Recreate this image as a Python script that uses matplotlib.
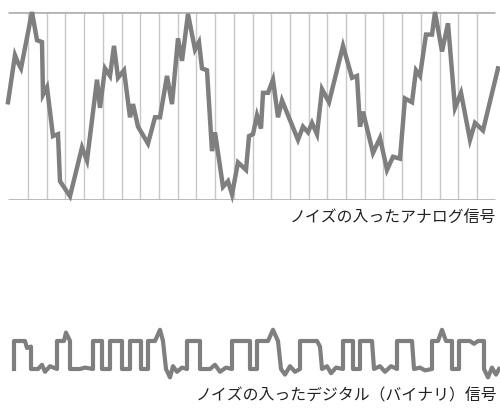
import matplotlib
matplotlib.use("Agg")
from matplotlib import pyplot as plt
import numpy as np

plt.rcParams['font.family'] = ['Noto Sans CJK JP', 'DejaVu Sans']

# analog signal: sample position and level (0 = bottom line, 100 = top line)
analog_t = [8, 15, 18, 21, 32, 37, 42, 43, 47, 53, 58, 60, 70, 82, 87, 97, 100,
            105, 110, 114, 118, 124, 130, 133, 138, 148, 155, 160, 167, 172, 178,
            182, 188, 195, 199, 202, 207, 212, 215, 223, 228, 232, 238, 246, 249,
            253, 257, 261, 263, 268, 273, 278, 282, 298, 303, 308, 312, 317, 322,
            329, 343, 352, 357, 360, 363, 373, 380, 387, 393, 400, 405, 412, 416,
            420, 426, 432, 435, 442, 448, 455, 461, 470, 475, 483, 498]
analog_v = [52, 77, 73, 70, 100, 85, 84, 56, 60, 34, 35, 10, 2, 28, 21, 64, 49,
            70, 66, 82, 65, 69, 44, 51, 39, 30, 44, 44, 66, 51, 86,
            74, 99, 80, 84, 70, 69, 26, 36, 7, 10, 3, 20, 16, 34,
            35, 45, 38, 57, 57, 64, 44, 53, 32, 39, 36, 41, 35, 59,
            52, 82, 65, 66, 39, 47, 25, 33, 16, 23, 22, 54, 52, 69,
            66, 88, 88, 100, 79, 94, 49, 57, 32, 41, 37, 70]

# digital signal: edges and levels (0 = low, 1 = high)
digital_t = [14, 14, 25, 27, 31, 31, 38, 42, 45, 50, 57, 57, 64, 66, 70, 70,
             80, 85, 93, 93, 102, 102, 110, 110, 122, 122, 130, 130, 141, 141,
             148, 148, 155, 160, 163, 166, 170, 173, 177, 182, 187, 187, 200, 200,
             210, 215, 220, 226, 232, 232, 250, 250, 257, 257, 268, 273, 278, 281,
             285, 290, 295, 300, 300, 317, 320, 322, 327, 331, 336, 343, 343, 353,
             353, 360, 360, 372, 374, 380, 385, 391, 397, 397, 412, 414, 420, 425,
             432, 432, 438, 442, 446, 452, 452, 459, 459, 470, 474, 478, 484, 484,
             488, 492, 496, 499]
digital_v = [0.0, 1.0, 1.0, 0.75, 0.8, 0.0, 0.0, 0.15, -0.1, 0.1, 0.0, 1.0,
             1.0, 1.3, 1.0, 0.0, 0.0, 0.05, 0.0, 1.0, 1.0, 0.0, 0.0, 1.0, 1.0,
             0.0, 0.0, 1.0, 1.0, 0.0, 0.0, 1.0, 1.0, 1.4, 1.0, 0.0, -0.3, 0.1,
             -0.1, 0.05, 0.0, 1.0, 1.0, 0.0, 0.0, 0.15, -0.1, 0.05, 0.0, 1.0,
             1.0, 0.0, 0.0, 1.0, 1.0, 1.4, 1.0, 0.0, -0.2, 0.1, -0.1, 0.0, 1.0,
             1.0, 0.8, 0.0, 0.1, -0.15, 0.05, 0.0, 1.0, 1.0, 0.0, 0.0, 1.0, 1.0,
             0.0, 0.1, -0.1, 0.1, 0.0, 1.0, 1.0, 0.0, 0.05, -0.05, 0.0, 1.0,
             1.0, 1.4, 1.0, 1.0, 0.0, 0.0, 1.0, 1.0, 0.9, 1.0, 1.0, 0.0, -0.3,
             0.05, -0.2, 0.0]

grid_x = np.linspace(28, 477, 25)

caption_analog = "ノイズの入ったアナログ信号"
caption_digital = "ノイズの入ったデジタル（バイナリ）信号"

W, H = 500, 409
fig = plt.figure(figsize=(5.0, 4.09), dpi=100, facecolor='white')

# analog panel: top line at y=12px, bottom line at y=200px
ax1 = fig.add_axes([0, (H - 200) / H, 1, 188 / H])
ax1.set_xlim(0, W)
ax1.set_ylim(0, 100)
ax1.axis('off')
ax1.vlines(grid_x, 0, 100, color='#c8c8c8', lw=1.0, zorder=1)
ax1.hlines([0, 100], 8, 495, color='#b4b4b4', lw=2.0, zorder=1)
ax1.plot(analog_t, analog_v, color='#7f7f7f', lw=3.2, solid_joinstyle='miter',
         clip_on=False, zorder=3)
fig.text(496 / W, 1 - 217 / H, caption_analog, ha='right', va='center',
         fontsize=11.4, color='#222222')

# digital panel: high level at y=341px, low level at y=369px
ax2 = fig.add_axes([0, (H - 369) / H, 1, 28 / H])
ax2.set_xlim(0, W)
ax2.set_ylim(0, 1)
ax2.axis('off')
ax2.plot(digital_t, digital_v, color='#7f7f7f', lw=3.0, clip_on=False)
fig.text(497 / W, 1 - 396 / H, caption_digital, ha='right', va='center',
         fontsize=11.4, color='#222222')

fig.savefig("out.png", dpi=100, facecolor='white')
